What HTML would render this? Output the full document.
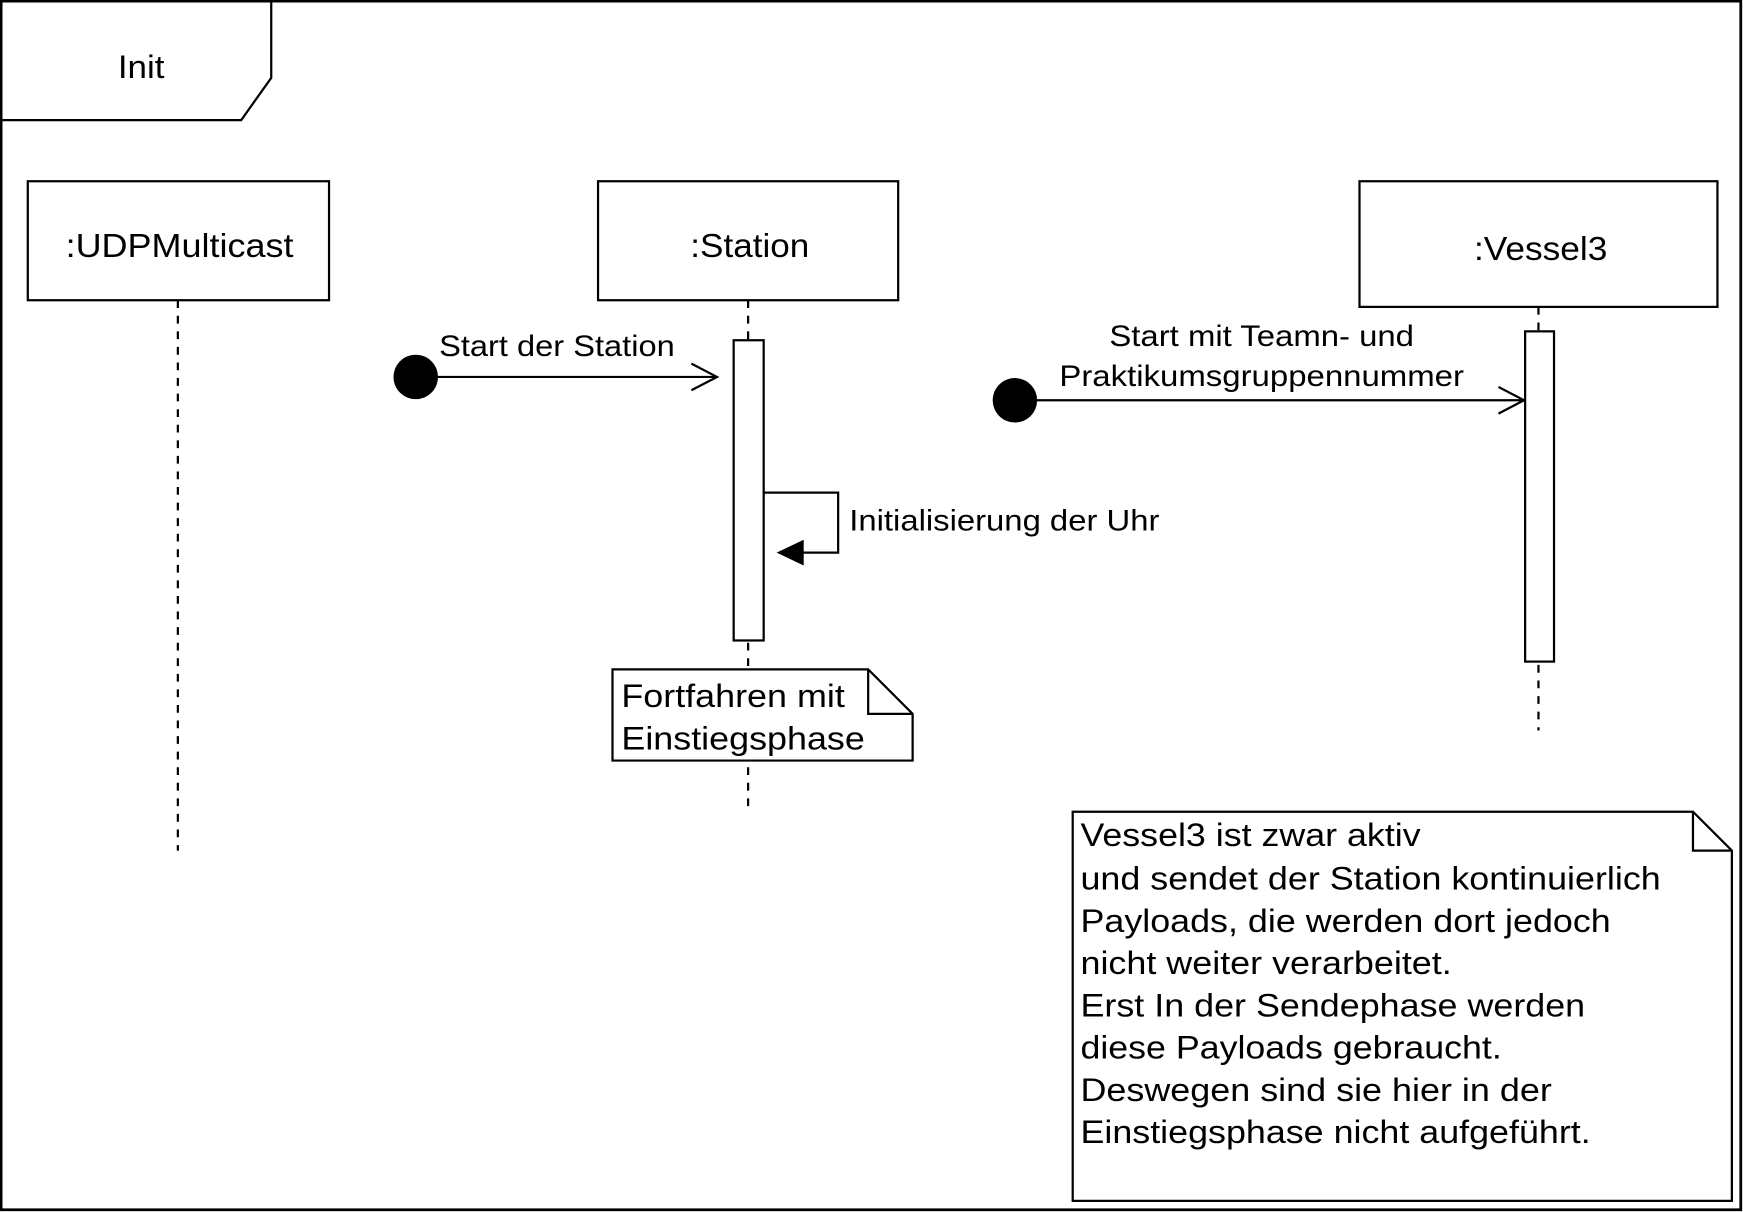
<!DOCTYPE html>
<html><head><meta charset="utf-8"><style>
html,body{margin:0;padding:0;background:#fff;}
svg{display:block;}
text{font-family:"Liberation Sans",Arial,sans-serif;fill:#000;}
</style></head><body>
<svg width="1743" height="1212" viewBox="0 0 1568 1090" preserveAspectRatio="none" xmlns="http://www.w3.org/2000/svg">
<rect x="1" y="1" width="1565" height="1087" fill="#fff" stroke="#000" stroke-width="2.5"/>
<path d="M1 108 H217 L244 70 V1" fill="none" stroke="#000" stroke-width="2"/>
<text x="106" y="70" font-size="29" textLength="42" lengthAdjust="spacingAndGlyphs">Init</text>

<g fill="#fff" stroke="#000" stroke-width="2">
<rect x="25" y="163" width="271" height="107"/>
<rect x="538" y="163" width="270" height="107"/>
<rect x="1223" y="163" width="322" height="113"/>
</g>
<g font-size="30" lengthAdjust="spacingAndGlyphs">
<text x="59" y="231" textLength="205" lengthAdjust="spacingAndGlyphs">:UDPMulticast</text>
<text x="621" y="231" textLength="107" lengthAdjust="spacingAndGlyphs">:Station</text>
<text x="1326" y="234" textLength="120" lengthAdjust="spacingAndGlyphs">:Vessel3</text>
</g>

<g stroke="#000" stroke-width="2" stroke-dasharray="7,7">
<line x1="160" y1="270" x2="160" y2="765"/>
<line x1="673" y1="270" x2="673" y2="732"/>
<line x1="1384" y1="276" x2="1384" y2="657"/>
</g>
<rect x="660" y="306" width="27" height="270" fill="#fff" stroke="#000" stroke-width="2"/>
<rect x="1372" y="298" width="26" height="297" fill="#fff" stroke="#000" stroke-width="2"/>

<circle cx="374" cy="339" r="20" fill="#000"/>
<line x1="374" y1="339" x2="644" y2="339" stroke="#000" stroke-width="2"/>
<path d="M622 327 L645 339 L622 351" fill="none" stroke="#000" stroke-width="2"/>
<text x="395" y="320" font-size="27" textLength="212" lengthAdjust="spacingAndGlyphs">Start der Station</text>

<circle cx="913" cy="360" r="20" fill="#000"/>
<line x1="913" y1="360" x2="1370" y2="360" stroke="#000" stroke-width="2"/>
<path d="M1348 348 L1371 360 L1348 372" fill="none" stroke="#000" stroke-width="2"/>
<text x="998" y="311" font-size="27" textLength="274" lengthAdjust="spacingAndGlyphs">Start mit Teamn- und</text>
<text x="953" y="347" font-size="27" textLength="364" lengthAdjust="spacingAndGlyphs">Praktikumsgruppennummer</text>

<path d="M687 443 H754 V497 H718" fill="none" stroke="#000" stroke-width="2"/>
<path d="M701 497 L722 487 L722 507 Z" fill="#000" stroke="#000" stroke-width="2"/>
<text x="764" y="477" font-size="27" textLength="279" lengthAdjust="spacingAndGlyphs">Initialisierung der Uhr</text>

<path d="M551 602 H781 L821 642 V684 H551 Z M781 602 V642 H821" fill="#fff" stroke="#000" stroke-width="2"/>
<text x="559" y="636" font-size="29" textLength="201" lengthAdjust="spacingAndGlyphs">Fortfahren mit</text>
<text x="559" y="674" font-size="29" textLength="219" lengthAdjust="spacingAndGlyphs">Einstiegsphase</text>

<path d="M965 730 H1523 L1558 765 V1080 H965 Z M1523 730 V765 H1558" fill="#fff" stroke="#000" stroke-width="2"/>
<g font-size="29">
<text x="972" y="761" textLength="306" lengthAdjust="spacingAndGlyphs">Vessel3 ist zwar aktiv</text>
<text x="972" y="800" textLength="522" lengthAdjust="spacingAndGlyphs">und sendet der Station kontinuierlich</text>
<text x="972" y="838" textLength="477" lengthAdjust="spacingAndGlyphs">Payloads, die werden dort jedoch</text>
<text x="972" y="876" textLength="334" lengthAdjust="spacingAndGlyphs">nicht weiter verarbeitet.</text>
<text x="972" y="914" textLength="454" lengthAdjust="spacingAndGlyphs">Erst In der Sendephase werden</text>
<text x="972" y="952" textLength="379" lengthAdjust="spacingAndGlyphs">diese Payloads gebraucht.</text>
<text x="972" y="990" textLength="424" lengthAdjust="spacingAndGlyphs">Deswegen sind sie hier in der</text>
<text x="972" y="1028" textLength="459" lengthAdjust="spacingAndGlyphs">Einstiegsphase nicht aufgeführt.</text>
</g>
</svg>
</body></html>
